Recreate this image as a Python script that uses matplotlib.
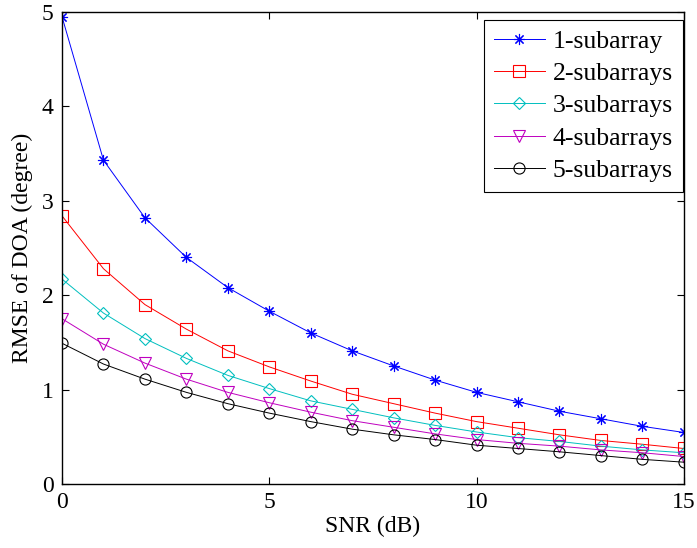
import matplotlib.pyplot as plt

snr = list(range(0, 16))

rmse_1 = [4.95, 3.43, 2.82, 2.40, 2.08, 1.83, 1.60, 1.41, 1.25, 1.10, 0.97, 0.87, 0.77, 0.69, 0.61, 0.545]
rmse_2 = [2.84, 2.28, 1.90, 1.64, 1.41, 1.24, 1.09, 0.95, 0.85, 0.75, 0.66, 0.59, 0.52, 0.46, 0.42, 0.375]
rmse_3 = [2.17, 1.81, 1.54, 1.33, 1.15, 1.01, 0.88, 0.79, 0.70, 0.62, 0.55, 0.49, 0.45, 0.40, 0.36, 0.33]
rmse_4 = [1.75, 1.48, 1.28, 1.11, 0.97, 0.86, 0.76, 0.67, 0.60, 0.53, 0.47, 0.43, 0.40, 0.36, 0.33, 0.29]
rmse_5 = [1.49, 1.27, 1.11, 0.97, 0.85, 0.75, 0.66, 0.58, 0.52, 0.47, 0.41, 0.375, 0.34, 0.30, 0.26, 0.23]

labels = ['1-subarray', '2-subarrays', '3-subarrays', '4-subarrays', '5-subarrays']

plt.rcParams['font.family'] = ['Liberation Serif', 'DejaVu Serif']

fig = plt.figure(figsize=(6.97, 5.48), dpi=100)
ax = fig.add_axes([0.089, 0.117, 0.892, 0.861])

# 样式：颜色、标记（星号用8臂的线型标记，类似MATLAB的 '*'）
styles = [('b', (8, 2, 0), 8), ('r', 's', 8), ('c', 'D', 6.5), ('m', 'v', 9), ('k', 'o', 8)]
series = [rmse_1, rmse_2, rmse_3, rmse_4, rmse_5]

for vals, lab, (c, m, ms) in zip(series, labels, styles):
    ax.plot(snr, vals, color=c, marker=m, markersize=ms, markerfacecolor='none',
            markeredgecolor=c, markeredgewidth=0.8, linewidth=0.7, label=lab)

ax.set_xlim(0, 15)
ax.set_ylim(0, 5)
ax.set_xticks([0, 5, 10, 15])
ax.set_yticks([0, 1, 2, 3, 4, 5])
ax.tick_params(direction='in', top=True, right=True, labelsize=17, length=5, width=0.8, pad=6)
for s in ax.spines.values():
    s.set_linewidth(1.0)

ax.set_xlabel('SNR (dB)', fontsize=17, labelpad=2)
ax.set_ylabel('RMSE of DOA (degree)', fontsize=17, labelpad=6)

leg = ax.legend(loc='upper right', bbox_to_anchor=(0.998, 0.983), fontsize=18.5,
                fancybox=False, framealpha=1, edgecolor='k', borderaxespad=0,
                handlelength=2.0, labelspacing=0.36, borderpad=0.38, handletextpad=0.3)
leg.get_frame().set_linewidth(0.8)

plt.savefig('out.png', dpi=100)
plt.close()
